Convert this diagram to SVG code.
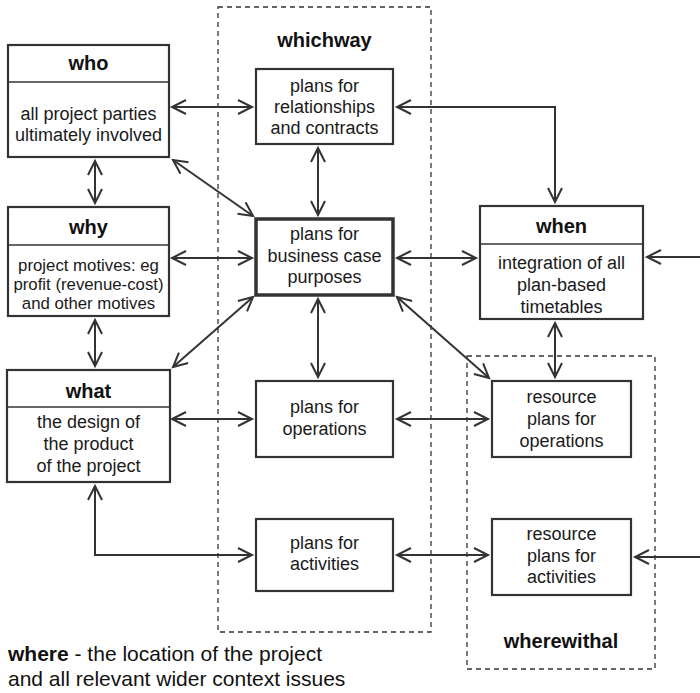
<svg xmlns="http://www.w3.org/2000/svg" width="700" height="693" viewBox="0 0 700 693">
  <style>
    .box { fill: #fff; stroke: #333; stroke-width: 2.2; }
    .main { fill: #fff; stroke: #333; stroke-width: 3.5; }
    .div { stroke: #333; stroke-width: 1.6; }
    .zone { fill: none; stroke: #333; stroke-width: 1.3; stroke-dasharray: 5 4; }
    .hd { font-family: "Liberation Sans", Arial, sans-serif; font-weight: bold; font-size: 20px; fill: #111; text-anchor: middle; }
    .tx { font-family: "Liberation Sans", Arial, sans-serif; font-size: 18px; fill: #1a1a1a; text-anchor: middle; }
    .sm { font-family: "Liberation Sans", Arial, sans-serif; font-size: 16.8px; fill: #1a1a1a; text-anchor: middle; }
    .ft { font-family: "Liberation Sans", Arial, sans-serif; font-size: 21px; fill: #111; }
    .cn { fill: none; stroke: #333; stroke-width: 2; marker-end: url(#ah); }
    .bi { marker-start: url(#ah); }
  </style>
  <defs>
    <marker id="ah" markerUnits="userSpaceOnUse" markerWidth="18" markerHeight="18" refX="15" refY="8" orient="auto-start-reverse">
      <path d="M1,1 L15,8 L1,15" fill="none" stroke="#333" stroke-width="2"/>
    </marker>
  </defs>

  <!-- dashed zones -->
  <g id="whichway">
    <rect class="zone" x="218" y="7" width="213" height="625"/>
    <text class="hd" x="324.5" y="47">whichway</text>
  </g>
  <g id="wherewithal">
    <rect class="zone" x="467" y="356" width="188" height="313"/>
    <text class="hd" x="561" y="648">wherewithal</text>
  </g>

  <!-- connectors -->
  <g id="connectors">
    <line class="cn bi" x1="172" y1="107" x2="252" y2="107"/>
    <line class="cn bi" x1="95" y1="161" x2="95" y2="203"/>
    <line class="cn bi" x1="173" y1="160" x2="253" y2="216"/>
    <line class="cn bi" x1="172" y1="258" x2="252" y2="258"/>
    <line class="cn bi" x1="95" y1="320" x2="95" y2="366"/>
    <line class="cn bi" x1="253" y1="297" x2="173" y2="367"/>
    <line class="cn bi" x1="172" y1="419" x2="252" y2="419"/>
    <polyline class="cn bi" points="95,486 95,555 252,555"/>
    <line class="cn bi" x1="318" y1="148" x2="318" y2="215"/>
    <polyline class="cn bi" points="397,107 555,107 555,202"/>
    <line class="cn bi" x1="397" y1="258" x2="476" y2="258"/>
    <line class="cn" x1="700" y1="257" x2="647" y2="257"/>
    <line class="cn bi" x1="318" y1="299" x2="318" y2="377"/>
    <line class="cn bi" x1="397" y1="297" x2="489" y2="378"/>
    <line class="cn bi" x1="555" y1="323" x2="555" y2="377"/>
    <line class="cn bi" x1="397" y1="419" x2="488" y2="419"/>
    <line class="cn bi" x1="397" y1="555" x2="488" y2="555"/>
    <line class="cn" x1="700" y1="557" x2="635" y2="557"/>
  </g>

  <!-- left column -->
  <g id="who">
    <rect class="box" x="8" y="45" width="161" height="112"/>
    <line class="div" x1="8" y1="82" x2="169" y2="82"/>
    <text class="hd" x="88.5" y="70">who</text>
    <text class="tx" x="88.5" y="120">all project parties</text>
    <text class="tx" x="88.5" y="141">ultimately involved</text>
  </g>
  <g id="why">
    <rect class="box" x="8" y="207" width="161" height="109"/>
    <line class="div" x1="8" y1="245" x2="169" y2="245"/>
    <text class="hd" x="88.5" y="234">why</text>
    <text class="sm" x="88.5" y="271">project motives: eg</text>
    <text class="sm" x="88.5" y="290">profit (revenue-cost)</text>
    <text class="sm" x="88.5" y="309">and other motives</text>
  </g>
  <g id="what">
    <rect class="box" x="7" y="370" width="163" height="112"/>
    <line class="div" x1="7" y1="407" x2="170" y2="407"/>
    <text class="hd" x="88.5" y="398">what</text>
    <text class="tx" x="88.5" y="428">the design of</text>
    <text class="tx" x="88.5" y="450">the product</text>
    <text class="tx" x="88.5" y="472">of the project</text>
  </g>

  <!-- whichway plans -->
  <g id="relationships">
    <rect class="box" x="256" y="69" width="137" height="75"/>
    <text class="tx" x="324.5" y="92">plans for</text>
    <text class="tx" x="324.5" y="113">relationships</text>
    <text class="tx" x="324.5" y="134">and contracts</text>
  </g>
  <g id="business-case">
    <rect class="main" x="256" y="219" width="137" height="76"/>
    <text class="tx" x="324.5" y="240">plans for</text>
    <text class="tx" x="324.5" y="262">business case</text>
    <text class="tx" x="324.5" y="283">purposes</text>
  </g>
  <g id="operations">
    <rect class="box" x="256" y="381" width="137" height="76"/>
    <text class="tx" x="324.5" y="413">plans for</text>
    <text class="tx" x="324.5" y="435">operations</text>
  </g>
  <g id="activities">
    <rect class="box" x="256" y="519" width="137" height="72"/>
    <text class="tx" x="324.5" y="549">plans for</text>
    <text class="tx" x="324.5" y="570">activities</text>
  </g>

  <!-- right column -->
  <g id="when">
    <rect class="box" x="480" y="206" width="163" height="113"/>
    <line class="div" x1="480" y1="244" x2="643" y2="244"/>
    <text class="hd" x="561.5" y="233">when</text>
    <text class="tx" x="561.5" y="269">integration of all</text>
    <text class="tx" x="561.5" y="291">plan-based</text>
    <text class="tx" x="561.5" y="313">timetables</text>
  </g>
  <g id="resource-operations">
    <rect class="box" x="492" y="381" width="139" height="76"/>
    <text class="tx" x="561.5" y="403">resource</text>
    <text class="tx" x="561.5" y="425">plans for</text>
    <text class="tx" x="561.5" y="447">operations</text>
  </g>
  <g id="resource-activities">
    <rect class="box" x="492" y="519" width="139" height="76"/>
    <text class="tx" x="561.5" y="540">resource</text>
    <text class="tx" x="561.5" y="562">plans for</text>
    <text class="tx" x="561.5" y="583">activities</text>
  </g>

  <!-- location note -->
  <g id="where">
    <text class="ft" x="8" y="661"><tspan font-weight="bold">where</tspan> - the location of the project</text>
    <text class="ft" x="8" y="686">and all relevant wider context issues</text>
  </g>
</svg>
